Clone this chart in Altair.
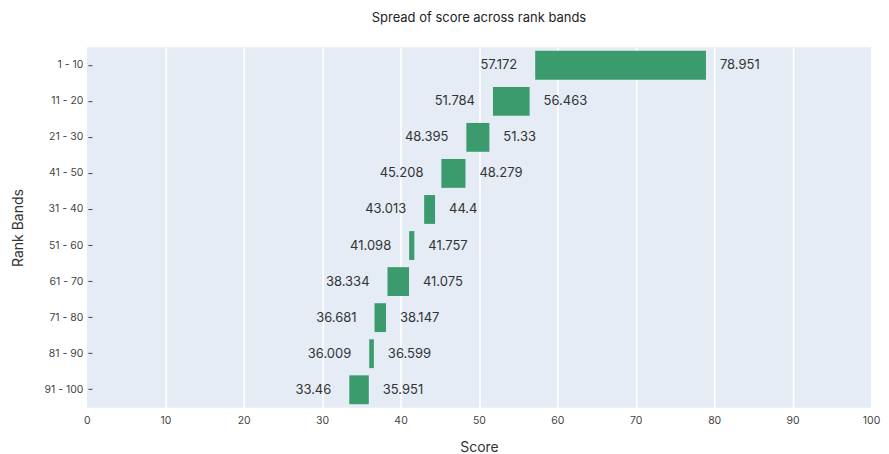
import altair as alt
import pandas as pd

bands = ["1 - 10", "11 - 20", "21 - 30", "41 - 50", "31 - 40",
         "51 - 60", "61 - 70", "71 - 80", "81 - 90", "91 - 100"]
low = [57.172, 51.784, 48.395, 45.208, 43.013, 41.098, 38.334, 36.681, 36.009, 33.46]
high = [78.951, 56.463, 51.33, 48.279, 44.4, 41.757, 41.075, 38.147, 36.599, 35.951]

df = pd.DataFrame({"band": bands, "low": low, "high": high})
df["low_label"] = [f"{v:g}" for v in low]
df["high_label"] = [f"{v:g}" for v in high]

FONT = "Inter"

y_enc = alt.Y("band:N", sort=bands, title="Rank Bands",
              scale=alt.Scale(paddingInner=0.2, paddingOuter=0.1),
              axis=alt.Axis(labelFont=FONT, labelFontSize=10.5, labelColor="#444",
                            titleFont=FONT, titleFontSize=14, titleColor="#333",
                            titleFontWeight="normal", titlePadding=18,
                            domain=False, ticks=True, tickSize=4, tickColor="#444",
                            offset=-5, labelPadding=5, grid=False))
x_enc = alt.X("low:Q", title="Score",
              scale=alt.Scale(domain=[0, 100], nice=False, zero=False),
              axis=alt.Axis(values=list(range(0, 101, 10)), labelFont=FONT,
                            labelFontSize=10.5, labelColor="#444", labelFlush=False,
                            titleFont=FONT, titleFontSize=14, titleColor="#333",
                            titleFontWeight="normal", titlePadding=14,
                            domain=False, ticks=False, labelPadding=8,
                            grid=True, gridColor="white", gridWidth=1.6,
                            gridOpacity=alt.condition("datum.value == 0 || datum.value == 100",
                                                      alt.value(0), alt.value(1))))

base = alt.Chart(df)

bars = base.mark_bar(color="#3B9B6C", cornerRadius=0).encode(
    x=x_enc, x2="high:Q", y=y_enc)

left_text = base.mark_text(align="right", baseline="middle", dx=-18,
                           font=FONT, fontSize=13, color="#333").encode(
    x="low:Q", y=alt.Y("band:N", sort=bands), text="low_label:N")

right_text = base.mark_text(align="left", baseline="middle", dx=14,
                            font=FONT, fontSize=13, color="#333").encode(
    x="high:Q", y=alt.Y("band:N", sort=bands), text="high_label:N")

chart = alt.layer(bars, left_text, right_text).properties(
    width=785, height=361,
    title=alt.TitleParams("Spread of score across rank bands", font=FONT,
                          fontSize=13, fontWeight="normal", color="#222",
                          anchor="middle", offset=22),
    autosize=alt.AutoSizeParams(type="none"),
    padding={"left": 79, "top": 39, "right": 10, "bottom": 46},
).configure(background="white").configure_view(fill="#E5ECF6", strokeWidth=0)

chart.save("out.html", embed_options={"renderer": "svg", "actions": False})
